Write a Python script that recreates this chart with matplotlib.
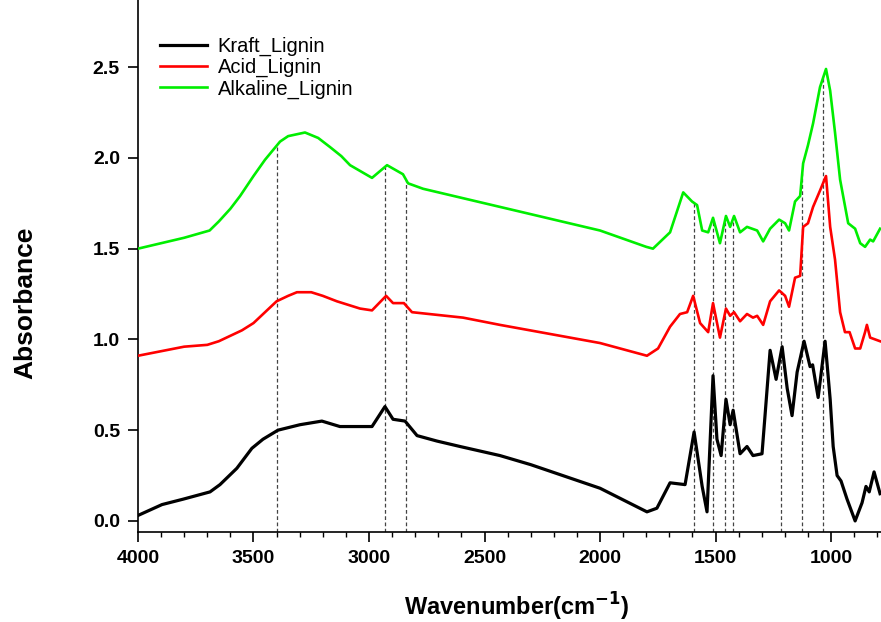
import matplotlib
matplotlib.use("Agg")
import matplotlib.pyplot as plt
import numpy as np
from matplotlib.ticker import MultipleLocator, FormatStrFormatter

# Wavenumber (cm-1) / absorbance
kraft_wn = [4000, 3896, 3804, 3688, 3645, 3572, 3507, 3459, 3394, 3299, 3204, 3126, 3026, 2987,
            2931, 2896, 2844, 2792, 2706, 2606, 2433, 2300, 2000, 1797, 1754, 1697, 1632, 1593,
            1558, 1537, 1511, 1494, 1476, 1455, 1437, 1424, 1394, 1364, 1338, 1299, 1286, 1264,
            1238, 1212, 1190, 1169, 1147, 1117, 1091, 1080, 1056, 1026, 1004, 991, 974, 957, 931,
            896, 866, 849, 835, 814, 788]
kraft_abs = [0.03, 0.09, 0.12, 0.16, 0.20, 0.29, 0.40, 0.45, 0.50, 0.53, 0.55, 0.52, 0.52, 0.52,
             0.63, 0.56, 0.55, 0.47, 0.44, 0.41, 0.36, 0.31, 0.18, 0.05, 0.07, 0.21, 0.20, 0.49,
             0.19, 0.05, 0.80, 0.45, 0.36, 0.67, 0.53, 0.61, 0.37, 0.41, 0.36, 0.37, 0.58, 0.94,
             0.78, 0.96, 0.73, 0.58, 0.82, 0.99, 0.85, 0.86, 0.68, 0.99, 0.67, 0.41, 0.25, 0.22, 0.12,
             0.00, 0.10, 0.19, 0.16, 0.27, 0.15]

acid_wn = [4000, 3800, 3700, 3650, 3600, 3550, 3500, 3450, 3400, 3350, 3312, 3250, 3200, 3139,
           3039, 2987, 2926, 2896, 2849, 2814, 2593, 2433, 2000, 1797, 1749, 1697, 1654, 1623,
           1597, 1567, 1532, 1511, 1481, 1455, 1437, 1420, 1394, 1364, 1338, 1320, 1294, 1264,
           1225, 1199, 1182, 1156, 1134, 1121, 1100, 1078, 1048, 1022, 1004, 983, 961, 940, 920,
           896, 874, 853, 845, 831, 788]
acid_abs = [0.91, 0.96, 0.97, 0.99, 1.02, 1.05, 1.09, 1.15, 1.21, 1.24, 1.26, 1.26, 1.24, 1.21,
            1.17, 1.16, 1.24, 1.20, 1.20, 1.15, 1.12, 1.08, 0.98, 0.91, 0.95, 1.07, 1.14, 1.15,
            1.24, 1.09, 1.04, 1.20, 1.01, 1.17, 1.13, 1.15, 1.10, 1.14, 1.12, 1.13, 1.08, 1.21,
            1.27, 1.24, 1.18, 1.34, 1.35, 1.62, 1.64, 1.73, 1.82, 1.90, 1.62, 1.44, 1.15, 1.04,
            1.04, 0.95, 0.95, 1.04, 1.08, 1.01, 0.99]

alkaline_wn = [4000, 3900, 3800, 3690, 3650, 3600, 3558, 3500, 3450, 3385, 3350, 3277, 3220,
               3169, 3120, 3082, 2987, 2922, 2853, 2831, 2766, 2433, 2000, 1800, 1771, 1697,
               1640, 1602, 1580, 1558, 1532, 1511, 1481, 1455, 1437, 1420, 1394, 1364, 1320,
               1294, 1264, 1225, 1199, 1182, 1156, 1134, 1121, 1100, 1078, 1048, 1022, 1004,
               983, 961, 926, 896, 874, 853, 831, 818, 788]
alkaline_abs = [1.50, 1.53, 1.56, 1.60, 1.65, 1.72, 1.79, 1.90, 1.99, 2.09, 2.12, 2.14, 2.11,
                2.06, 2.01, 1.96, 1.89, 1.96, 1.91, 1.86, 1.83, 1.73, 1.60, 1.51, 1.50, 1.59,
                1.81, 1.76, 1.74, 1.60, 1.59, 1.67, 1.53, 1.68, 1.62, 1.68, 1.59, 1.62, 1.60,
                1.54, 1.61, 1.66, 1.64, 1.60, 1.76, 1.79, 1.97, 2.07, 2.19, 2.39, 2.49, 2.37,
                2.14, 1.88, 1.64, 1.61, 1.53, 1.51, 1.55, 1.54, 1.61]

# Band positions marked with dashed guide lines
band_wn = [3400, 2930, 2840, 1595, 1510, 1460, 1425, 1215, 1125, 1035]

series = [
    ("Kraft_Lignin", kraft_wn, kraft_abs, "black", 2.3),
    ("Acid_Lignin", acid_wn, acid_abs, "#ff0000", 1.9),
    ("Alkaline_Lignin", alkaline_wn, alkaline_abs, "#00ee00", 1.9),
]

fig = plt.figure(figsize=(8.81, 6.22), dpi=100)
ax = fig.add_axes([0.1566, 0.145, 0.8434, 0.855])

for name, wn, ab, color, lw in series:
    ax.plot(wn, ab, color=color, linewidth=lw, label=name, zorder=3)

y_bottom = -0.06
# dashed guides run from the axis up to the alkaline curve
alk_x = np.array(alkaline_wn)[::-1]
alk_y = np.array(alkaline_abs)[::-1]
for b in band_wn:
    top = np.interp(b, alk_x, alk_y)
    ax.plot([b, b], [y_bottom, top], color="#444444", linestyle=(0, (3, 2)),
            linewidth=0.9, zorder=2)

ax.set_xlim(4000, 784)
ax.set_ylim(y_bottom, 2.87)
ax.xaxis.set_major_locator(MultipleLocator(500))
ax.xaxis.set_minor_locator(MultipleLocator(100))
ax.yaxis.set_major_locator(MultipleLocator(0.5))
ax.yaxis.set_major_formatter(FormatStrFormatter('%.1f'))

for s in ["top", "right"]:
    ax.spines[s].set_visible(False)
for s in ["left", "bottom"]:
    ax.spines[s].set_linewidth(1.2)

ax.tick_params(axis="both", which="major", direction="out", length=7, width=1.2,
               labelsize=14, pad=6)
ax.tick_params(axis="x", which="minor", direction="out", length=3.5, width=1)
for lbl in ax.get_xticklabels() + ax.get_yticklabels():
    lbl.set_fontweight("bold")
    lbl.set_family("Liberation Sans")

ax.set_xlabel("Wavenumber(cm$^{\\mathbf{-1}}$)", fontsize=17, fontweight="bold",
              family="Liberation Sans")
ax.set_ylabel("Absorbance", fontsize=19, fontweight="bold", family="Liberation Sans")
ax.xaxis.set_label_coords(0.51, -0.11)
ax.yaxis.set_label_coords(-0.136, 0.43)

leg = ax.legend(loc="upper left", bbox_to_anchor=(-0.005, 0.98), frameon=False,
                prop={"family": "Liberation Sans", "size": 14.5}, handlelength=2.3,
                handletextpad=0.55, labelspacing=0.1, borderaxespad=0.9)

plt.savefig("out.png", dpi=100, facecolor="white")
plt.close()
